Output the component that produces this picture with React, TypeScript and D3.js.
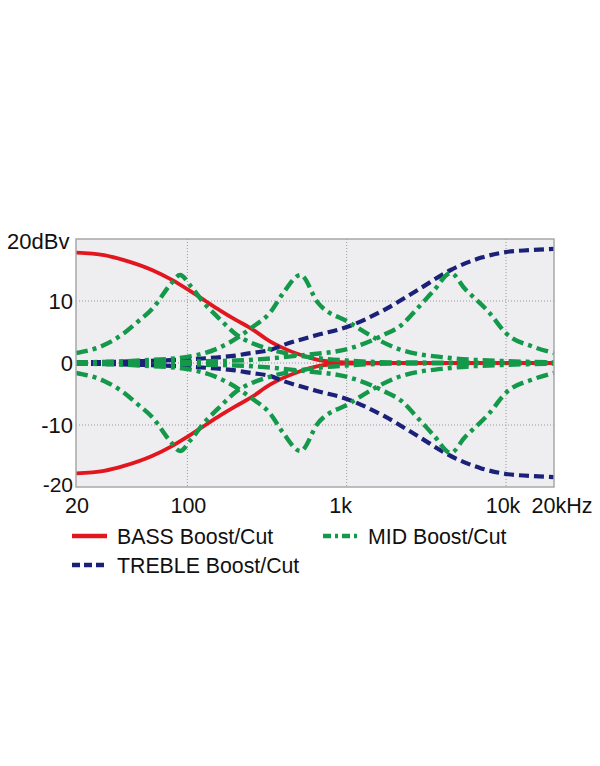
import React from 'react';
import * as d3 from 'd3';

// frequency (Hz) / level (dBv) pairs
const bassFreq = [20, 30, 40, 60, 80, 100, 130, 160, 200, 250, 330, 400, 500, 660, 800, 1000, 2000, 20000];
const bassBoost = [17.8, 17.4, 16.6, 15.0, 13.4, 11.9, 10.0, 8.5, 7.0, 5.6, 3.5, 2.4, 1.4, 0.5, 0.2, 0.1, 0, 0];
const bassCut = [-17.8, -17.4, -16.6, -15.0, -13.4, -11.9, -10.0, -8.5, -7.0, -5.6, -3.5, -2.4, -1.4, -0.5, -0.2, -0.1, 0, 0];

const trebleFreq = [20, 50, 100, 200, 250, 330, 400, 650, 1000, 1700, 2800, 4500, 7000, 10000, 14000, 20000];
const trebleBoost = [0.1, 0.3, 0.6, 1.2, 1.6, 2.1, 2.9, 4.5, 5.8, 8.5, 11.8, 15.0, 17.0, 17.9, 18.2, 18.4];
const trebleCut = [-0.1, -0.3, -0.6, -1.2, -1.6, -2.1, -2.9, -4.5, -5.8, -8.5, -11.8, -15.0, -17.0, -17.9, -18.2, -18.4];

const midLowFreq = [20, 30, 40, 48, 61, 78, 90, 105, 126, 161, 205, 250, 332, 450, 650, 1000, 2000, 20000];
const midLowBoost = [1.6, 2.9, 4.8, 6.5, 8.9, 12.6, 14.2, 12.4, 9.8, 7.0, 4.5, 3.3, 2.2, 1.4, 0.8, 0.4, 0.1, 0];
const midLowCut = [-1.6, -2.9, -4.8, -6.5, -8.9, -12.6, -14.2, -12.4, -9.8, -7.0, -4.5, -3.3, -2.2, -1.4, -0.8, -0.4, -0.1, 0];

const midMidFreq = [20, 50, 100, 150, 210, 250, 332, 400, 513, 656, 1045, 1510, 2200, 4500, 10000, 20000];
const midMidBoost = [0.1, 0.4, 1.0, 2.2, 4.2, 5.6, 8.2, 11.3, 14.2, 9.8, 6.5, 4.0, 2.1, 0.8, 0.3, 0.1];
const midMidCut = [-0.1, -0.4, -1.0, -2.2, -4.2, -5.6, -8.2, -11.3, -14.2, -9.8, -6.5, -4.0, -2.1, -0.8, -0.3, -0.1];

const midHighFreq = [20, 200, 500, 1060, 1700, 2200, 2800, 3500, 4500, 5500, 7800, 10000, 14900, 20000];
const midHighBoost = [0, 0.4, 1.2, 2.4, 4.5, 6.1, 8.9, 11.6, 14.5, 12.0, 8.2, 4.8, 2.6, 1.6];
const midHighCut = [0, -0.4, -1.2, -2.4, -4.5, -6.1, -8.9, -11.6, -14.5, -12.0, -8.2, -4.8, -2.6, -1.6];

const yTicks = [20, 10, 0, -10, -20];
const yTickLabels = ['20dBv', '10', '0', '-10', '-20'];
const xTicks = [20, 100, 1000, 10000, 20000];
const xTickLabels = ['20', '100', '1k', '10k', '20kHz'];

const legendItems = ['BASS Boost/Cut', 'MID Boost/Cut', 'TREBLE Boost/Cut'];

const RED = '#e2161f';
const BLUE = '#1b2078';
const GREEN = '#14984a';
const FONT = '"Liberation Sans", Arial, Helvetica, sans-serif';

export default function App() {
  const W = 600, H = 766;
  const x = d3.scaleLog().domain([20, 20000]).range([76, 554]);
  const y = d3.scaleLinear().domain([-20, 20]).range([487, 239]);
  const line = d3.line<[number, number]>().x(d => x(d[0])).y(d => y(d[1])).curve(d3.curveMonotoneX);
  const path = (f: number[], v: number[]) => line(f.map((ff, i) => [ff, v[i]] as [number, number])) || '';

  const midDash = '12 5 4 5';
  const trebleDash = '10 5';

  const curves = [
    { d: path(bassFreq, bassBoost), color: RED, dash: undefined, w: 3.8 },
    { d: path(bassFreq, bassCut), color: RED, dash: undefined, w: 3.8 },
    { d: path(trebleFreq, trebleBoost), color: BLUE, dash: trebleDash, w: 4.2 },
    { d: path(trebleFreq, trebleCut), color: BLUE, dash: trebleDash, w: 4.2 },
    { d: path(midLowFreq, midLowBoost), color: GREEN, dash: midDash, w: 4.4 },
    { d: path(midLowFreq, midLowCut), color: GREEN, dash: midDash, w: 4.4 },
    { d: path(midMidFreq, midMidBoost), color: GREEN, dash: midDash, w: 4.4 },
    { d: path(midMidFreq, midMidCut), color: GREEN, dash: midDash, w: 4.4 },
    { d: path(midHighFreq, midHighBoost), color: GREEN, dash: midDash, w: 4.4 },
    { d: path(midHighFreq, midHighCut), color: GREEN, dash: midDash, w: 4.4 },
  ];

  const [x0, x1] = x.range();
  const [y0, y1] = y.range();

  const legend = [
    { label: legendItems[0], color: RED, dash: undefined, lx: 72, ly: 536 },
    { label: legendItems[1], color: GREEN, dash: '8 4 3 4', lx: 323, ly: 536 },
    { label: legendItems[2], color: BLUE, dash: '8 4', lx: 72, ly: 565 },
  ];

  // baseline offsets for the y labels (the top one is the unit label, the bottom one sits a little higher)
  const yLabelDy = [10, 8, 8, 8, 5];

  return (
    <div style={{ position: 'absolute', left: 0, top: 0 }}>
      <svg width={W} height={H} style={{ display: 'block', background: '#fff' }} fontFamily={FONT}>
        <defs>
          <clipPath id="plot">
            <rect x={x0} y={y1} width={x1 - x0} height={y0 - y1} />
          </clipPath>
        </defs>
        <rect x={x0} y={y1} width={x1 - x0} height={y0 - y1} fill="#eeeef1" />
        {[100, 1000, 10000].map(t => (
          <line key={'vx' + t} x1={x(t)} x2={x(t)} y1={y1} y2={y0} stroke="#9a9a9a" strokeWidth={1} strokeDasharray="1 2" />
        ))}
        {[10, 0, -10].map(t => (
          <line key={'hy' + t} x1={x0} x2={x1} y1={y(t)} y2={y(t)} stroke="#9a9a9a" strokeWidth={1} strokeDasharray="1 2" />
        ))}
        <g clipPath="url(#plot)">
          {curves.map((c, i) => (
            <path key={i} d={c.d} fill="none" stroke={c.color} strokeWidth={c.w} strokeDasharray={c.dash} />
          ))}
        </g>
        <rect x={x0} y={y1} width={x1 - x0} height={y0 - y1} fill="none" stroke="#a8a8a8" strokeWidth={1.5} />
        {yTicks.map((t, i) => (
          <text key={'yl' + t} x={i === 0 ? 7 : 73} y={y(t) + yLabelDy[i]} fontSize={i === 4 ? 21 : 22}
            textAnchor={i === 0 ? 'start' : 'end'} fill="#111">{yTickLabels[i]}</text>
        ))}
        {xTicks.map((t, i) => (
          <text key={'xl' + t} x={x(t) + (i === 2 ? -6 : i === 3 ? -3 : i === 4 ? 8 : 1)} y={513} fontSize={21.5}
            textAnchor="middle" fill="#111">{xTickLabels[i]}</text>
        ))}
        {legend.map(l => (
          <g key={l.label}>
            <line x1={l.lx} x2={l.lx + 35} y1={l.ly} y2={l.ly} stroke={l.color} strokeWidth={4.5} strokeDasharray={l.dash} />
            <text x={l.lx + 45} y={l.ly + 8} fontSize={21.3} fill="#111">{l.label}</text>
          </g>
        ))}
      </svg>
    </div>
  );
}
